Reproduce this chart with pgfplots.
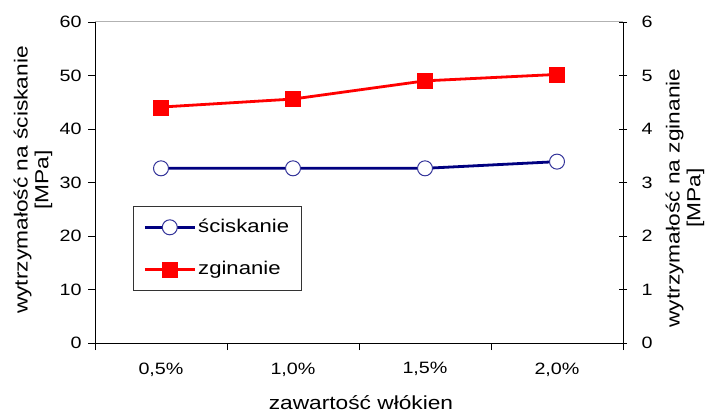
\documentclass[border=0pt]{standalone}
\usepackage{pgfplots}
\pgfplotsset{compat=1.18}
\usepackage{fontspec}
\setmainfont[FakeStretch=1.2]{Liberation Sans}
\definecolor{navyline}{RGB}{0,0,128}
\definecolor{circedge}{RGB}{51,51,153}
\definecolor{redline}{RGB}{255,0,0}
\begin{document}
\begin{tikzpicture}[x=1bp,y=1bp]
\path[use as bounding box] (0,0) rectangle (712,414);
\pgfplotsset{
  common/.style={
    at={(95bp,71bp)}, anchor=south west, scale only axis,
    width=528bp, height=321bp,
    xmin=0.5, xmax=4.5,
    /pgf/number format/assume math mode=true,
    tick label style={font=\fontsize{16.5}{19}\selectfont, black},
    axis line style={black, line width=1bp, -},
    tick style={black, line width=0.75bp},
    clip=false,
  },
  sci/.style={navyline, line width=2.8bp, mark=*, mark size=7.5bp,
    mark options={fill=white, draw=circedge, line width=1bp}},
  zgi/.style={redline, line width=2.8bp, mark=square*, mark size=7.5bp,
    mark options={fill=redline, draw=redline, line width=0.1bp}},
}
\begin{axis}[common,
  ymin=0, ymax=60, ytick={0,10,...,60},
  axis x line*=bottom, axis y line*=left,
  ytick pos=left, yticklabel pos=left,
  tick align=outside, major tick length=7bp,
  xtick={0.5,1.5,2.5,3.5,4.5}, xticklabels={},
  extra x ticks={1,2,3,4},
  extra x tick labels={{0,5\%},{1,0\%},{1,5\%},{2,0\%}},
  extra x tick style={major tick length=0bp},
  xticklabel style={yshift=-16bp},
  yticklabel style={xshift=-3bp},
  after end axis/.code={\draw[gray!60, line width=1bp] (rel axis cs:0,1) -- (rel axis cs:1,1);},
]
\addplot[sci] coordinates {(1,32.65) (2,32.65) (3,32.65) (4,33.9)};
\end{axis}
\begin{axis}[common,
  ymin=0, ymax=6, ytick={0,1,...,6},
  axis x line=none, axis y line*=right,
  ytick pos=right, yticklabel pos=right,
  tick align=center, major tick length=8bp,
  yticklabel style={xshift=11bp},
  legend style={at={(0.072,0.427)}, anchor=north west,
    draw=black!80, line width=0.75bp,
    font=\fontsize{18.5}{22}\selectfont,
    inner xsep=10bp, inner ysep=10bp,
    row sep=20bp,
    nodes={inner sep=2bp, text height=14bp, text depth=4bp},
    /tikz/every even column/.append style={column sep=4bp}},
  legend cell align=left,
  legend image code/.code={\draw[mark repeat=2,mark phase=2,#1] plot coordinates {(0bp,0bp) (25bp,0bp) (50bp,0bp)};},
]
\addlegendimage{sci}
\addlegendentry{ściskanie}
\addplot[zgi] coordinates {(1,4.41) (2,4.56) (3,4.90) (4,5.02)};
\addlegendentry{zginanie}
\end{axis}
\node[rotate=90, align=center, font=\fontsize{19}{21}\selectfont] at (33,234) {wytrzymałość na ściskanie\\{[MPa]}};
\node[rotate=90, align=center, font=\fontsize{19}{21}\selectfont] at (685,216) {wytrzymałość na zginanie\\{[MPa]}};
\node[font=\fontsize{19}{21}\selectfont, inner sep=1bp] at (361,11) {zawartość włókien};
\end{tikzpicture}
\end{document}
